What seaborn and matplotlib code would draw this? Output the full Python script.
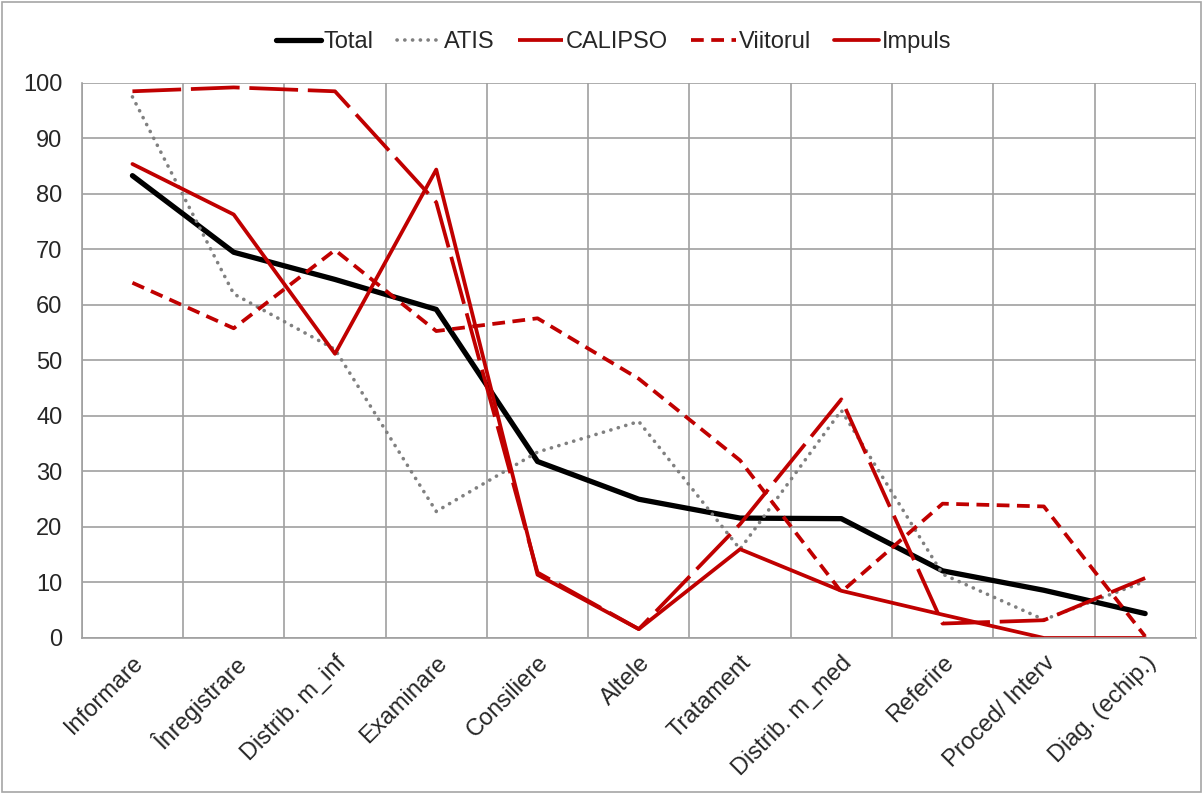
import numpy as np
import matplotlib
matplotlib.use("Agg")
import matplotlib.pyplot as plt
from matplotlib.patches import Rectangle
import seaborn as sns

categories = [
    "Informare", "Înregistrare", "Distrib. m_inf", "Examinare", "Consiliere",
    "Altele", "Tratament", "Distrib. m_med", "Referire", "Proced/ Interv",
    "Diag. (echip.)",
]
total = [83.3, 69.5, 64.6, 59.2, 31.8, 25.0, 21.6, 21.5, 12.1, 8.6, 4.4]
atis = [97.5, 62.0, 52.0, 22.8, 33.5, 39.0, 16.0, 41.0, 11.5, 3.3, 10.2]
calipso = [98.5, 99.2, 98.5, 78.5, 11.8, 1.6, 20.5, 43.0, 2.6, 3.2, 10.8]
viitorul = [64.0, 55.8, 69.9, 55.3, 57.6, 46.7, 32.0, 8.3, 24.2, 23.7, 0.3]
impuls = [85.4, 76.3, 51.2, 84.4, 11.4, 1.6, 16.0, 8.5, 4.2, 0.0, 0.0]

sns.set_style("white")
plt.rcParams["font.family"] = ["Liberation Sans", "DejaVu Sans"]

RED = "#C00000"
styles = [
    ("Total", total, dict(color="black", lw=3.8, linestyle="-")),
    ("ATIS", atis, dict(color="#808080", lw=2.6, linestyle=(0, (0.05, 2.1)),
                        dash_capstyle="round")),
    ("CALIPSO", calipso, dict(color=RED, lw=2.7, linestyle=(0, (13, 2.6)))),
    ("Viitorul", viitorul, dict(color=RED, lw=2.7, linestyle=(0, (3.4, 2.0)))),
    ("Impuls", impuls, dict(color=RED, lw=2.7, linestyle="-")),
]

fig = plt.figure(figsize=(12.03, 7.94), dpi=100)
ax = fig.add_axes([0.068, 0.1965, 0.926, 0.699])

x = np.arange(len(categories))
for name, vals, kw in styles:
    sns.lineplot(x=x, y=vals, ax=ax, label=name, **kw)

ax.set_xlim(-0.5, len(categories) - 0.5)
ax.set_ylim(0, 100)
ax.set_yticks(range(0, 101, 10))
ax.set_xticks(x)
ax.set_xticklabels(categories, rotation=45, ha="right", rotation_mode="anchor")
ax.set_xticks(np.arange(-0.5, len(categories), 1.0), minor=True)

ax.grid(axis="y", which="major", color="#a0a0a0", lw=1.2)
ax.grid(axis="x", which="minor", color="#a0a0a0", lw=1.2)
ax.set_axisbelow(True)

ax.tick_params(axis="x", which="major", length=0, labelsize=17, pad=10)
ax.tick_params(axis="x", which="minor", length=6, width=1.2, color="#a0a0a0",
               direction="out")
ax.tick_params(axis="y", length=5, width=1.2, color="#a0a0a0", labelsize=17,
               pad=9)

for side in ["top", "right"]:
    ax.spines[side].set_visible(False)
for side in ["left", "bottom"]:
    ax.spines[side].set_color("#a0a0a0")
    ax.spines[side].set_linewidth(1.2)

ax.legend(loc="center", bbox_to_anchor=(0.51, 0.947), bbox_transform=fig.transFigure,
          ncol=5, frameon=False, fontsize=17, handlelength=1.9,
          handletextpad=0.1, columnspacing=1.0)

fig.patches.append(Rectangle((0.002, 0.002), 0.996, 0.996, transform=fig.transFigure,
                             fill=False, edgecolor="#a6a6a6", lw=1.2))

fig.savefig("out.png", dpi=100, facecolor="white")
